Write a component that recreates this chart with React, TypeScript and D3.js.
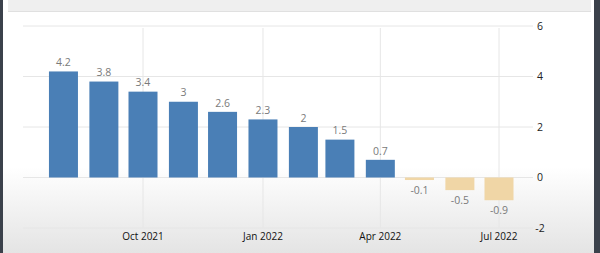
import React from "react";
import * as d3 from "d3";

const months = ["2021-08-01","2021-09-01","2021-10-01","2021-11-01","2021-12-01","2022-01-01","2022-02-01","2022-03-01","2022-04-01","2022-05-01","2022-06-01","2022-07-01"];
const values = [4.2, 3.8, 3.4, 3, 2.6, 2.3, 2, 1.5, 0.7, -0.1, -0.5, -0.9];
const yTicks = [-2, 0, 2, 4, 6];
const xTickDates = ["2021-10-01","2022-01-01","2022-04-01","2022-07-01"];
const xTickLabels = ["Oct 2021","Jan 2022","Apr 2022","Jul 2022"];

const W = 600, H = 253;

export default function App() {
  const parse = (s: string) => new Date(s + "T00:00:00Z");
  const x = d3.scaleUtc().domain([parse("2021-10-01"), parse("2022-07-01")]).range([143, 499]);
  const y = d3.scaleLinear().domain([-2, 6]).range([228, 26]);
  const bw = 29;
  const font = "'Open Sans', 'DejaVu Sans', sans-serif";
  return (
    <svg width={W} height={H} style={{ position: "absolute", left: 0, top: 0, display: "block" }}>
      <defs>
        <linearGradient id="bg" x1="0" y1="0" x2="0" y2="1">
          <stop offset="0" stopColor="#ffffff" />
          <stop offset="0.66" stopColor="#ffffff" />
          <stop offset="1" stopColor="#e4e4e4" />
        </linearGradient>
      </defs>
      <rect x={0} y={0} width={W} height={H} fill="url(#bg)" />
      <rect x={8} y={0} width={583} height={11} fill="#efefef" />
      <line x1={8} x2={591} y1={11.5} y2={11.5} stroke="#e0e0e0" />
      <rect x={0} y={0} width={3} height={H} fill="#3b414b" />
      <rect x={594} y={0} width={6} height={H} fill="#3b414b" />
      {xTickDates.map((d) => (
        <line key={d} x1={x(parse(d))} x2={x(parse(d))} y1={28} y2={228} stroke="#e6e6e6" />
      ))}
      {yTicks.map((t) => (
        <g key={t}>
          <line x1={23} x2={533} y1={y(t)} y2={y(t)} stroke="#e6e6e6" />
          <text x={540} y={y(t)} dy="0.35em" textAnchor="middle" fontFamily={font} fontSize={10.5} fill="#222">{t}</text>
        </g>
      ))}
      {months.map((m, i) => {
        const v = values[i];
        const cx = x(parse(m));
        const y0 = y(0), y1 = y(v);
        return (
          <g key={m}>
            <rect x={cx - bw / 2} y={Math.min(y0, y1)} width={bw} height={Math.max(1.5, Math.abs(y1 - y0))} fill={v >= 0 ? "#4a7fb6" : "#f0d6a6"} />
            <text x={cx} y={v >= 0 ? y1 - 9 : Math.max(y0, y1) + 10} dy="0.35em" textAnchor="middle" fontFamily={font} fontSize={10.5} fill="#7a7a7a">{String(v)}</text>
          </g>
        );
      })}
      {xTickDates.map((d, i) => (
        <text key={d} x={x(parse(d))} y={236} dy="0.35em" textAnchor="middle" fontFamily={font} fontSize={10} fill="#111">{xTickLabels[i]}</text>
      ))}
    </svg>
  );
}
